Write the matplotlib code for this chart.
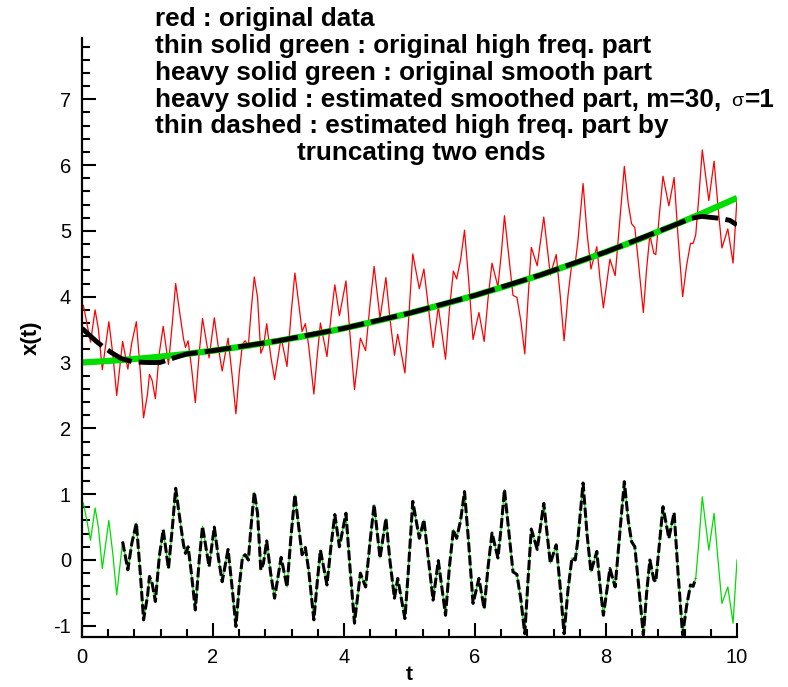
import matplotlib
matplotlib.use("Agg")
import matplotlib.pyplot as plt
import numpy as np
from matplotlib.ticker import MultipleLocator

plt.rcParams["font.family"] = ["Liberation Sans", "DejaVu Sans"]
plt.rcParams["axes.unicode_minus"] = False

# sample times at the peaks / troughs of the signal
t = np.array([
    0.00, 0.02, 0.07, 0.13, 0.20, 0.25, 0.31, 0.41, 0.47, 0.53,
    0.62, 0.70, 0.76, 0.83, 0.89, 0.94, 1.00, 1.03, 1.07, 1.12,
    1.18, 1.24, 1.32, 1.38, 1.43, 1.49, 1.55, 1.58, 1.62, 1.67,
    1.73, 1.79, 1.84, 1.94, 2.02, 2.08, 2.14, 2.23, 2.29, 2.35,
    2.40, 2.45, 2.49, 2.54, 2.58, 2.63, 2.68, 2.73, 2.77, 2.82,
    2.88, 2.94, 3.04, 3.13, 3.19, 3.25, 3.31, 3.36, 3.41, 3.46,
    3.54, 3.59, 3.64, 3.74, 3.80, 3.86, 3.93, 4.03, 4.09, 4.16,
    4.25, 4.33, 4.40, 4.46, 4.55, 4.64, 4.70, 4.77, 4.82, 4.86,
    4.93, 4.98, 5.05, 5.15, 5.22, 5.29, 5.36, 5.44, 5.55, 5.61,
    5.67, 5.72, 5.78, 5.84, 5.90, 5.97, 6.06, 6.14, 6.20, 6.26,
    6.35, 6.40, 6.45, 6.52, 6.58, 6.64, 6.70, 6.76, 6.81, 6.86,
    6.95, 7.05, 7.15, 7.24, 7.30, 7.36, 7.42, 7.48, 7.53, 7.57,
    7.65, 7.71, 7.77, 7.86, 7.91, 7.96, 8.06, 8.14, 8.21, 8.28,
    8.34, 8.39, 8.44, 8.50, 8.57, 8.62, 8.67, 8.73, 8.76, 8.82,
    8.87, 8.96, 9.04, 9.10, 9.17, 9.23, 9.29, 9.33, 9.37, 9.42,
    9.47, 9.57, 9.65, 9.71, 9.77, 9.86, 9.94, 10.00])

# original high freq. part (thin green)
hf = np.array([
    0.82, 0.87, 0.62, 0.30, 0.79, 0.50, -0.13, 0.60, 0.10, -0.53,
    0.28, -0.15, 0.25, 0.56, -0.20, -0.91, -0.55, -0.25, -0.35, -0.63,
    0.05, 0.46, -0.13, 0.50, 1.09, 0.65, 0.23, 0.10, 0.20, -0.20,
    -0.76, 0.00, 0.51, -0.10, 0.50, 0.05, -0.33, 0.16, -0.40, -1.01,
    -0.40, 0.04, 0.08, 0.00, 0.50, 1.03, 0.71, -0.15, -0.05, 0.29,
    -0.20, -0.58, 0.04, -0.41, 0.35, 0.99, 0.50, 0.08, 0.19, -0.15,
    -0.91, -0.35, 0.15, -0.38, 0.20, 0.69, 0.20, 0.71, -0.10, -0.96,
    -0.20, -0.41, 0.30, 0.84, 0.03, 0.63, 0.00, -0.58, -0.28, -0.50,
    -0.89, -0.20, 0.89, 0.33, 0.61, 0.00, -0.61, -0.01, -0.84, -0.10,
    0.46, 0.33, 0.60, 1.04, 0.30, -0.66, -0.28, -0.74, -0.10, 0.41,
    0.03, 0.50, 1.07, 0.40, -0.18, -0.22, -0.60, -1.12, -0.30, 0.47,
    0.16, 0.86, -0.05, 0.23, -0.40, -1.12, -0.45, 0.03, 0.00, 0.30,
    1.17, 0.40, -0.18, 0.13, -0.40, -0.84, -0.13, -0.41, 0.40, 1.19,
    0.60, 0.28, 0.20, -0.40, -1.14, -0.50, 0.00, -0.30, -0.33, 0.30,
    0.81, 0.33, 0.72, -0.20, -1.14, -0.70, -0.38, -0.40, -0.28, 0.30,
    0.96, 0.15, 0.71, 0.00, -0.66, -0.41, -0.96, 0.00])

# original data (red)
x_data = np.array([
    3.82, 3.87, 3.62, 3.31, 3.80, 3.51, 2.89, 3.62, 3.13, 2.50,
    3.32, 2.90, 3.30, 3.62, 2.86, 2.16, 2.52, 2.82, 2.73, 2.45,
    3.14, 3.55, 2.97, 3.61, 4.20, 3.77, 3.36, 3.23, 3.33, 2.94,
    2.39, 3.15, 3.67, 3.07, 3.68, 3.24, 2.87, 3.37, 2.82, 2.22,
    2.84, 3.28, 3.33, 3.26, 3.76, 4.30, 3.99, 3.14, 3.24, 3.59,
    3.11, 2.74, 3.38, 2.94, 3.71, 4.36, 3.89, 3.47, 3.59, 3.26,
    2.52, 3.09, 3.60, 3.09, 3.68, 4.18, 3.71, 4.24, 3.44, 2.59,
    3.37, 3.18, 3.91, 4.46, 3.67, 4.29, 3.68, 3.11, 3.43, 3.22,
    2.84, 3.55, 4.65, 4.12, 4.42, 3.82, 3.23, 3.85, 3.05, 3.81,
    4.39, 4.27, 4.56, 5.01, 4.29, 3.35, 3.76, 3.32, 3.98, 4.51,
    4.15, 4.64, 5.23, 4.58, 4.02, 3.99, 3.63, 3.13, 3.97, 4.75,
    4.47, 5.21, 4.33, 4.64, 4.03, 3.33, 4.02, 4.52, 4.51, 4.83,
    5.72, 4.97, 4.42, 4.76, 4.25, 3.83, 4.57, 4.32, 5.16, 5.98,
    5.41, 5.11, 5.05, 4.47, 3.76, 4.42, 4.94, 4.66, 4.64, 5.30,
    5.83, 5.38, 5.81, 4.91, 4.00, 4.47, 4.81, 4.81, 4.94, 5.55,
    6.23, 5.46, 6.06, 5.37, 4.74, 5.03, 4.51, 5.50])

# original smooth part (heavy green)
t_smooth = [0.0, 0.5, 1.0, 1.5, 2.0, 2.5, 3.0, 3.5, 4.0, 4.5, 5.0,
            5.5, 6.0, 6.5, 7.0, 7.5, 8.0, 8.5, 9.0, 9.5, 10.0]
x_smooth = [3.00, 3.03, 3.07, 3.12, 3.18, 3.25, 3.33, 3.42, 3.52, 3.63, 3.75,
            3.88, 4.02, 4.17, 4.33, 4.50, 4.68, 4.87, 5.07, 5.28, 5.50]

# estimated smoothed part, m=30 (heavy black)
t_est = [0.0, 0.22, 0.32, 0.45, 0.60, 0.78, 1.00, 1.19, 1.34, 1.60, 2.0,
         3.0, 4.0, 5.0, 6.0, 7.0, 8.0, 9.0, 9.30, 9.46, 9.74, 9.89, 10.0]
x_est = [3.52, 3.32, 3.24, 3.15, 3.06, 3.01, 3.00, 3.00, 3.05, 3.13, 3.18,
         3.33, 3.52, 3.75, 4.02, 4.33, 4.68, 5.07, 5.19, 5.22, 5.19, 5.16, 5.09]

# the estimated high freq. part is only kept away from the two ends
t_cut = (0.58, 9.40)

legend_lines = [
    "red : original data",
    "thin solid green : original high freq. part",
    "heavy solid green : original smooth part",
    "heavy solid : estimated smoothed part, m=30,",
    "thin dashed : estimated high freq. part by",
]

green = "#00dd00"

fig = plt.figure(figsize=(7.88, 6.87), dpi=100)
W, H = 788.0, 687.0
ax = fig.add_axes([82 / W, 1 - 637 / H, 655 / W, 599 / H])

ax.plot(t, x_data, color="red", lw=0.9)
ax.plot(t_smooth, x_smooth, color=green, lw=4.5, solid_capstyle="butt")
ax.plot(t_est, x_est, color="black", lw=3.5, dashes=(5.5, 1.45),
        dash_capstyle="butt")

ax.plot(t, hf, color=green, lw=0.9)
keep = (t >= t_cut[0]) & (t <= t_cut[1])
ax.plot(t[keep], hf[keep], color="black", lw=2.2, dashes=(3.3, 1.0),
        dash_capstyle="butt")

ax.set_xlim(0, 10)
ax.set_ylim(-1.17, 7.93)
for s in ["top", "right"]:
    ax.spines[s].set_visible(False)
for s in ["left", "bottom"]:
    ax.spines[s].set_linewidth(1.6)

ax.xaxis.set_major_locator(MultipleLocator(2))
ax.xaxis.set_minor_locator(MultipleLocator(0.4))
ax.yaxis.set_major_locator(MultipleLocator(1))
ax.yaxis.set_minor_locator(MultipleLocator(0.2))
ax.tick_params(which="both", direction="in", width=1.5, labelsize=14.5, pad=8)
ax.tick_params(which="major", length=10)
ax.tick_params(which="minor", length=6)

ax.set_ylabel("x(t)", fontsize=16, fontweight="bold", labelpad=8)
# x label placed by hand so it stays inside the figure
fig.text(409 / W, 1 - 680 / H, "t", fontsize=15, fontweight="bold",
         ha="center", va="baseline")

# legend text written straight on the figure
baselines = [26, 53, 80, 107, 133]
txt = []
for s, yb in zip(legend_lines, baselines):
    txt.append(fig.text(155 / W, 1 - yb / H, s, fontsize=18.8, fontweight="bold",
                        va="baseline", ha="left"))
fig.text(297 / W, 1 - 160 / H, "truncating two ends", fontsize=18.8,
         fontweight="bold", va="baseline", ha="left")

# sigma is set in a smaller plain font, then "=1" in bold again
fig.canvas.draw()
r = fig.canvas.get_renderer()
bb = txt[3].get_window_extent(r)
sig = fig.text((bb.x1 + 10) / W, 1 - 106 / H, "σ", fontsize=14,
               va="baseline", ha="left")
bb2 = sig.get_window_extent(r)
fig.text((bb2.x1 + 2) / W, 1 - 107 / H, "=1", fontsize=18.8, fontweight="bold",
         va="baseline", ha="left")

fig.savefig("out.png", dpi=100)
